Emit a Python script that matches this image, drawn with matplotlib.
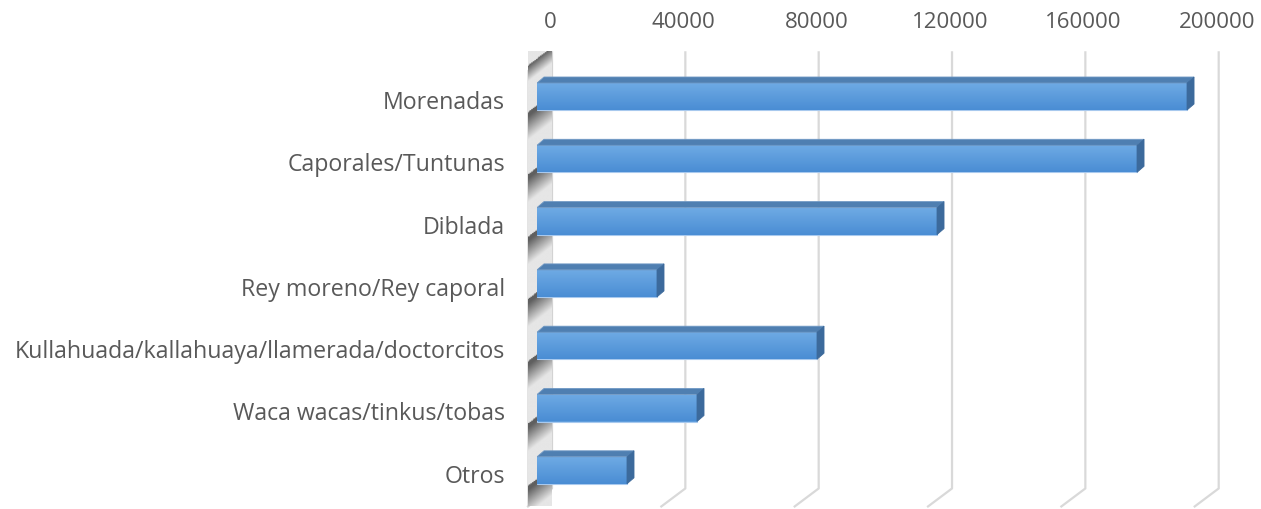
import numpy as np
import matplotlib
matplotlib.use("Agg")
import matplotlib.pyplot as plt
from matplotlib.patches import Polygon
from matplotlib.colors import LinearSegmentedColormap

categories = ["Morenadas", "Caporales/Tuntunas", "Diblada", "Rey moreno/Rey caporal",
              "Kullahuada/kallahuaya/llamerada/doctorcitos", "Waca wacas/tinkus/tobas", "Otros"]
values = [195000, 180000, 120000, 36000, 84000, 48000, 27000]
ticks = [0, 40000, 80000, 120000, 160000, 200000]

plt.rcParams['font.family'] = ['Open Sans', 'DejaVu Sans']

W, H = 1261, 509
fig = plt.figure(figsize=(W / 100, H / 100), dpi=100)
left_px, right_px = 537, 1203.7
top_px, bot_px = 65.35, 501.45
ax = fig.add_axes([left_px / W, 1 - bot_px / H, (right_px - left_px) / W, (bot_px - top_px) / H])
n = len(categories)
ax.set_xlim(0, ticks[-1])
ax.set_ylim(n - 0.5, -0.5)
ax.axis('off')

# pixel -> data helpers (dy > 0 means up on screen)
sx = ticks[-1] / (right_px - left_px)
sy = n / (bot_px - top_px)


def pt(x, y, dx=0, dy=0):
    return (x + dx * sx, y - dy * sy)


BX, BY = 15, 13    # back wall offset from the bar front plane
FX, FY = -9, -5    # floor front edge offset
DX, DY = 7, 6      # bar depth
h = 27 * sy
top, bot = -0.5, n - 0.5
txt = dict(color='#595959')

# gridlines on back wall + floor
for t in ticks:
    xs = [pt(t, top, BX, BY)[0], pt(t, bot, BX, BY)[0], pt(t, bot, FX, FY)[0]]
    ys = [pt(t, top, BX, BY)[1], pt(t, bot, BX, BY)[1], pt(t, bot, FX, FY)[1]]
    ax.plot(xs, ys, color='#d9d9d9', lw=1.6, clip_on=False, zorder=1)
    ax.text(pt(t, top, BX, 0)[0] - 2 * sx, top - (top_px - 23) * sy, str(t),
            ha='center', va='center', fontsize=16, **txt)

# left wall with shadows under the bars
wall = Polygon([pt(0, top, BX, BY), pt(0, bot, BX, BY), pt(0, bot, FX, FY), pt(0, top, FX, FY)],
               closed=True, facecolor='#e4e4e4', edgecolor='#d0d0d0', lw=0.8,
               clip_on=False, zorder=2)
ax.add_patch(wall)
y0, y1 = pt(0, top, 0, BY)[1], pt(0, bot, 0, FY)[1]
x0, x1 = FX * sx, BX * sx
ny, nx = 400, 30
yy = np.linspace(y0, y1, ny)[:, None]
px = np.linspace(FX, BX, nx)[None, :]
ycorr = yy + px * ((BY - FY) / (BX - FX)) * sy  # project back to front plane
shade = np.zeros((ny, nx))
for i in range(n):
    d = ycorr - (i + h / 2)
    s = np.clip(1 - d / (24 * sy), 0, 1) * (d > -4 * sy)
    shade = np.maximum(shade, s)
d = ycorr - (top - 6 * sy)
shade = np.maximum(shade, np.clip(1 - d / (16 * sy), 0, 1) * (d > 0))
wall_cmap = LinearSegmentedColormap.from_list('wall', ['#e6e6e6', '#5f5f5f'])
im = ax.imshow(shade, extent=[x0, x1, y1, y0], cmap=wall_cmap, vmin=0, vmax=1,
               aspect='auto', interpolation='bilinear', zorder=2, clip_on=False)
im.set_clip_path(wall)

# bars
bar_cmap = LinearSegmentedColormap.from_list('bar', ['#6eaae4', '#4a8dd4'])
grad = np.linspace(0, 1, 64)[:, None]
bars = ax.barh(range(n), values, height=h, color='#5b9bdc', edgecolor='#a8c9ee',
               lw=0.8, zorder=3)
for i, (b, v) in enumerate(zip(bars, values)):
    g = ax.imshow(grad, extent=[0, v, i + h / 2, i - h / 2], cmap=bar_cmap,
                  aspect='auto', zorder=3.5)
    g.set_clip_path(b)
    tface = Polygon([pt(0, i - h / 2), pt(v, i - h / 2), pt(v, i - h / 2, DX, DY),
                     pt(0, i - h / 2, DX, DY)], closed=True, facecolor='#4f7fb1',
                    edgecolor='#6f98c4', lw=0.6, zorder=4)
    sface = Polygon([pt(v, i - h / 2), pt(v, i + h / 2), pt(v, i + h / 2, DX, DY),
                     pt(v, i - h / 2, DX, DY)], closed=True, facecolor='#3c6a9c',
                    edgecolor='#3c6a9c', lw=0.6, zorder=4)
    ax.add_patch(tface)
    ax.add_patch(sface)
    ax.text(-32 * sx, i + 6.5 * sy, categories[i], ha='right', va='center',
            clip_on=False, fontsize=16.7, **txt)

fig.savefig('out.png', dpi=100, facecolor='white')
